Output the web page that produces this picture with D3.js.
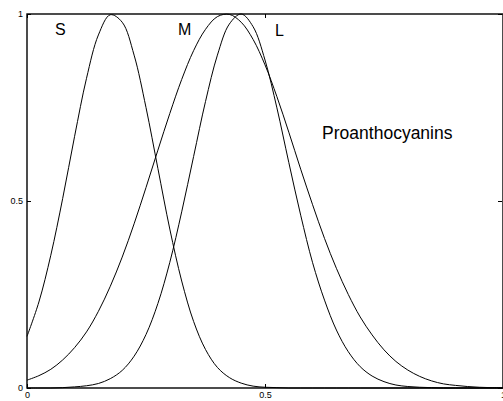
<!DOCTYPE html>
<html>
<head>
<meta charset="utf-8">
<script src="https://cdn.jsdelivr.net/npm/d3@7"></script>
<style>
  body { margin: 0; background: #fff; }
  svg { display: block; font-family: "Liberation Sans", Arial, Helvetica, sans-serif; }
</style>
</head>
<body>
<div id="chart"></div>
<script>
// sample positions along x
const xs = [0, 0.025, 0.05, 0.075, 0.1, 0.125, 0.15, 0.175, 0.2, 0.225,
    0.25, 0.275, 0.3, 0.325, 0.35, 0.375, 0.4, 0.425, 0.45, 0.475,
    0.5, 0.525, 0.55, 0.575, 0.6, 0.625, 0.65, 0.675, 0.7, 0.725,
    0.75, 0.775, 0.8, 0.825, 0.85, 0.875, 0.9, 0.925, 0.95, 0.975, 1];

// membership values
const sValues = [0.138, 0.230, 0.355, 0.507, 0.673, 0.828, 0.944, 0.998, 0.978, 0.890,
    0.750, 0.587, 0.425, 0.286, 0.178, 0.103, 0.055, 0.028, 0.013, 0.005,
    0.002, 0.001, 0, 0, 0, 0, 0, 0, 0, 0,
    0, 0, 0, 0, 0, 0, 0, 0, 0, 0, 0];
const mValues = [0.021, 0.033, 0.050, 0.075, 0.108, 0.150, 0.205, 0.272, 0.350, 0.439,
    0.536, 0.636, 0.734, 0.825, 0.902, 0.959, 0.993, 0.999, 0.978, 0.932,
    0.864, 0.779, 0.684, 0.585, 0.490, 0.400, 0.320, 0.250, 0.190, 0.142,
    0.102, 0.071, 0.048, 0.031, 0.019, 0.011, 0.007, 0.004, 0.002, 0.001, 0.001];
const lValues = [0, 0, 0, 0.001, 0.003, 0.006, 0.012, 0.025, 0.047, 0.085,
    0.143, 0.226, 0.336, 0.471, 0.619, 0.766, 0.890, 0.973, 1.000, 0.966,
    0.877, 0.749, 0.603, 0.462, 0.335, 0.235, 0.155, 0.097, 0.057, 0.032,
    0.017, 0.008, 0.004, 0.002, 0.001, 0, 0, 0, 0, 0, 0];

const seriesNames = ['S', 'M', 'L'];
const curveLabels = [
    { text: 'S', x: 0.059, y: 0.944 },
    { text: 'M', x: 0.317, y: 0.944 },
    { text: 'L', x: 0.521, y: 0.94 }
];
const title = 'Proanthocyanins';
const xTicks = [0, 0.5, 1];
const yTicks = [0, 0.5, 1];

const W = 503, H = 401;
const margin = { top: 14, right: 0, bottom: 13, left: 27 };

const svg = d3.select('#chart').append('svg')
    .attr('width', W)
    .attr('height', H);

const x = d3.scaleLinear().domain([0, 1]).range([margin.left, W - margin.right]);
const y = d3.scaleLinear().domain([0, 1]).range([H - margin.bottom, margin.top]);

// frame
svg.append('rect')
    .attr('x', x(0))
    .attr('y', y(1))
    .attr('width', x(1) - x(0))
    .attr('height', y(0) - y(1))
    .attr('fill', 'none')
    .attr('stroke', '#000')
    .attr('stroke-width', 1.4);

const fmt = d => d === 0.5 ? '0.5' : String(d);

const styleAxis = g => {
    g.select('.domain').remove();
    g.selectAll('.tick line').attr('stroke', '#000').attr('stroke-width', 1);
    g.selectAll('.tick text')
        .attr('fill', '#000')
        .style('font-size', '9px')
        .style('font-family', '"Liberation Sans", Arial, sans-serif');
};

svg.append('g')
    .attr('transform', 'translate(0,' + y(0) + ')')
    .call(d3.axisBottom(x).tickValues(xTicks).tickFormat(fmt).tickSizeInner(-4).tickSizeOuter(0).tickPadding(4))
    .call(styleAxis);

svg.append('g')
    .attr('transform', 'translate(0,' + y(1) + ')')
    .call(d3.axisTop(x).tickValues(xTicks).tickFormat('').tickSizeInner(-4).tickSizeOuter(0))
    .call(styleAxis);

svg.append('g')
    .attr('transform', 'translate(' + x(0) + ',0)')
    .call(d3.axisLeft(y).tickValues(yTicks).tickFormat(fmt).tickSizeInner(-4).tickSizeOuter(0).tickPadding(4))
    .call(styleAxis);

svg.append('g')
    .attr('transform', 'translate(' + (x(1) - 1) + ',0)')
    .call(d3.axisRight(y).tickValues(yTicks).tickFormat('').tickSizeInner(-4).tickSizeOuter(0))
    .call(styleAxis);

// curves
const data = [sValues, mValues, lValues].map((vals, i) => ({
    name: seriesNames[i],
    points: xs.map((xv, j) => ({ x: xv, y: vals[j] }))
}));

const line = d3.line()
    .x(d => x(d.x))
    .y(d => y(d.y))
    .curve(d3.curveCatmullRom.alpha(0.5));

svg.append('g').selectAll('path')
    .data(data)
    .enter()
    .append('path')
    .attr('fill', 'none')
    .attr('stroke', '#000')
    .attr('stroke-width', 1)
    .attr('d', d => line(d.points));

// labels
svg.append('g').selectAll('text')
    .data(curveLabels)
    .enter()
    .append('text')
    .attr('x', d => x(d.x))
    .attr('y', d => y(d.y))
    .style('font-size', '16px')
    .text(d => d.text);

svg.append('text')
    .attr('x', x(0.62))
    .attr('y', y(0.666))
    .style('font-size', '17.5px')
    .text(title);
</script>
</body>
</html>
